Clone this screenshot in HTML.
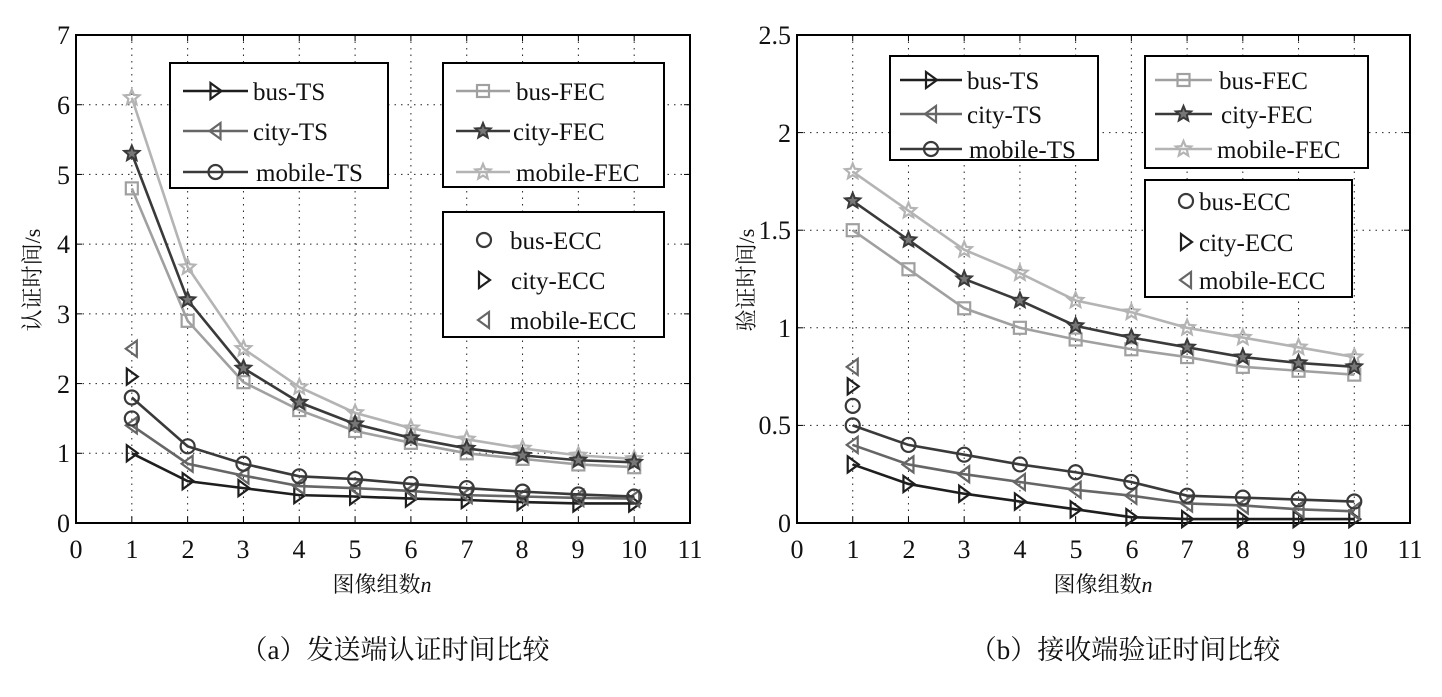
<!DOCTYPE html>
<html><head><meta charset="utf-8"><style>
body{margin:0;background:#fff}
svg text{font-family:"Liberation Serif","Noto Serif CJK SC",serif;fill:#111}
</style></head><body>
<svg id="s" width="1442" height="692" xmlns="http://www.w3.org/2000/svg">
<rect width="1442" height="692" fill="#fff"/>
<g id="g"></g>
<g font-size="26">
<g text-anchor="end">
<text x="70" y="532">0</text><text x="70" y="462">1</text><text x="70" y="393">2</text><text x="70" y="323">3</text><text x="70" y="253">4</text><text x="70" y="184">5</text><text x="70" y="114">6</text><text x="70" y="44">7</text>
<text x="791" y="532">0</text><text x="791" y="434">0.5</text><text x="791" y="337">1</text><text x="791" y="239">1.5</text><text x="791" y="142">2</text><text x="791" y="44">2.5</text>
</g>
<g text-anchor="middle">
<text x="76" y="558">0</text><text x="132" y="558">1</text><text x="188" y="558">2</text><text x="243" y="558">3</text><text x="299" y="558">4</text><text x="355" y="558">5</text><text x="411" y="558">6</text><text x="467" y="558">7</text><text x="522" y="558">8</text><text x="578" y="558">9</text><text x="634" y="558">10</text><text x="690" y="558">11</text>
<text x="797" y="558">0</text><text x="853" y="558">1</text><text x="909" y="558">2</text><text x="964" y="558">3</text><text x="1020" y="558">4</text><text x="1076" y="558">5</text><text x="1132" y="558">6</text><text x="1187" y="558">7</text><text x="1243" y="558">8</text><text x="1299" y="558">9</text><text x="1355" y="558">10</text><text x="1410" y="558">11</text>
</g>
<text x="382" y="592" text-anchor="middle" font-size="22">图像组数<tspan font-style="italic">n</tspan></text>
<text x="1103" y="592" text-anchor="middle" font-size="22">图像组数<tspan font-style="italic">n</tspan></text>
<text transform="translate(40,280) rotate(-90)" text-anchor="middle" font-size="22">认证时间/s</text>
<text transform="translate(754,280) rotate(-90)" text-anchor="middle" font-size="22">验证时间/s</text>
<text x="395" y="659" text-anchor="middle" font-size="27">（a）发送端认证时间比较</text>
<text x="1125" y="659" text-anchor="middle" font-size="27">（b）接收端验证时间比较</text>
</g>
<g font-size="25">
<text x="253" y="100">bus-TS</text><text x="253" y="140">city-TS</text><text x="256" y="181">mobile-TS</text>
<text x="516" y="100">bus-FEC</text><text x="513" y="140">city-FEC</text><text x="516" y="181">mobile-FEC</text>
<text x="510" y="249">bus-ECC</text><text x="511" y="289">city-ECC</text><text x="510" y="329">mobile-ECC</text>
<text x="967" y="89">bus-TS</text><text x="967" y="123">city-TS</text><text x="969" y="158">mobile-TS</text>
<text x="1219" y="89">bus-FEC</text><text x="1221" y="123">city-FEC</text><text x="1217" y="158">mobile-FEC</text>
<text x="1199" y="210">bus-ECC</text><text x="1199" y="251">city-ECC</text><text x="1199" y="289">mobile-ECC</text>
</g>
</svg>
<script>
const g=document.getElementById('g');let h='';
const D='#1e1e1e',M='#666',K='#3a3a3a',L='#a0a0a0',LL='#b4b4b4';
function star(x,y,r){let p=[];for(let i=0;i<10;i++){let a=-Math.PI/2+i*Math.PI/5,rr=i%2?r*0.45:r;p.push((x+rr*Math.cos(a)).toFixed(1)+','+(y+rr*Math.sin(a)).toFixed(1));}return p.join(' ');}
function mk(t,x,y,c){const s=`fill="none" stroke="${c}" stroke-width="2.2"`;
 if(t=='r')return `<polygon points="${x-5},${y-8} ${x+6},${y} ${x-5},${y+8}" ${s}/>`;
 if(t=='l')return `<polygon points="${x+5},${y-8} ${x-6},${y} ${x+5},${y+8}" ${s}/>`;
 if(t=='o')return `<circle cx="${x}" cy="${y}" r="7" ${s}/>`;
 if(t=='q')return `<rect x="${x-6}" y="${y-6}" width="12" height="12" ${s}/>`;
 if(t=='s')return `<polygon points="${star(x,y,8)}" ${s}/>`;
 if(t=='S')return `<polygon points="${star(x,y,8)}" fill="#777" stroke="${c}" stroke-width="2"/>`;}
function axes(x0,x1,y0,y1,ny,ymax,series,ecc){
 const X=v=>x0+(x1-x0)*v/11, Y=v=>y1-(y1-y0)*v/ymax;
 for(let i=1;i<11;i++)h+=`<line x1="${X(i)}" y1="${y0}" x2="${X(i)}" y2="${y1}" stroke="#222" stroke-dasharray="1.5,5"/>`;
 for(let j=1;j<ny;j++){let y=y1-(y1-y0)*j/ny;h+=`<line x1="${x0}" y1="${y}" x2="${x1}" y2="${y}" stroke="#222" stroke-dasharray="1.5,5"/>`;
  h+=`<line x1="${x0}" y1="${y}" x2="${x0+6}" y2="${y}" stroke="#000"/><line x1="${x1-6}" y1="${y}" x2="${x1}" y2="${y}" stroke="#000"/>`;}
 for(let i=1;i<11;i++)h+=`<line x1="${X(i)}" y1="${y1}" x2="${X(i)}" y2="${y1-6}" stroke="#000"/><line x1="${X(i)}" y1="${y0}" x2="${X(i)}" y2="${y0+6}" stroke="#000"/>`;
 h+=`<rect x="${x0}" y="${y0}" width="${x1-x0}" height="${y1-y0}" fill="none" stroke="#000" stroke-width="2"/>`;
 for(const [d,c,m] of series){h+=`<polyline fill="none" stroke="${c}" stroke-width="2.6" points="${d.map((v,i)=>X(i+1)+','+Y(v)).join(' ')}"/>`;
  d.forEach((v,i)=>h+=mk(m,X(i+1),Y(v),c));}
 for(const [v,c,m] of ecc)h+=mk(m,X(1),Y(v),c);}
axes(76,690,35,523,7,7,[
[[1,0.6,0.5,0.4,0.38,0.35,0.33,0.3,0.28,0.28],D,'r'],
[[1.4,0.85,0.68,0.53,0.5,0.46,0.4,0.38,0.36,0.35],M,'l'],
[[1.8,1.1,0.85,0.67,0.63,0.56,0.5,0.45,0.41,0.38],K,'o'],
[[4.8,2.9,2.02,1.62,1.32,1.15,1.0,0.92,0.84,0.8],L,'q'],
[[6.1,3.67,2.5,1.95,1.58,1.36,1.2,1.07,0.97,0.92],LL,'s'],
[[5.3,3.2,2.22,1.73,1.42,1.22,1.07,0.97,0.9,0.87],K,'S']],
[[1.5,K,'o'],[2.1,D,'r'],[2.5,M,'l']]);
axes(797,1410,35,523,5,2.5,[
[[.3,.2,.15,.11,.07,.03,.02,.02,.02,.02],D,'r'],
[[.4,.3,.25,.21,.17,.14,.1,.09,.07,.06],M,'l'],
[[.5,.4,.35,.3,.26,.21,.14,.13,.12,.11],K,'o'],
[[1.5,1.3,1.1,1.0,.94,.89,.85,.8,.78,.76],L,'q'],
[[1.8,1.6,1.4,1.28,1.14,1.08,1.0,.95,.9,.85],LL,'s'],
[[1.65,1.45,1.25,1.14,1.01,.95,.9,.85,.82,.8],K,'S']],
[[.6,K,'o'],[.7,D,'r'],[.8,M,'l']]);
function box(x,y,w,hh){h+=`<rect x="${x}" y="${y}" width="${w}" height="${hh}" fill="#fff" stroke="#000" stroke-width="2"/>`;}
function leg(x1,x2,y,c,m){h+=`<line x1="${x1}" y1="${y}" x2="${x2}" y2="${y}" stroke="${c}" stroke-width="2.6"/>`+mk(m,(x1+x2)/2,y,c);}
box(170,63,218,125);leg(183,248,91,D,'r');leg(183,248,131,M,'l');leg(183,248,172,K,'o');
box(443,63,221,124);leg(456,510,91,L,'q');leg(456,510,131,K,'S');leg(456,510,172,LL,'s');
box(443,212,221,125);h+=mk('o',484,240,K)+mk('r',484,280,D)+mk('l',484,320,M);
box(890,56,208,104);leg(900,962,80,D,'r');leg(900,962,114,M,'l');leg(900,962,149,K,'o');
box(1145,56,223,112);leg(1155,1212,80,L,'q');leg(1155,1212,114,K,'S');leg(1155,1212,149,LL,'s');
box(1145,180,207,117);h+=mk('o',1186,201,K)+mk('r',1186,242,D)+mk('l',1186,280,M);
g.innerHTML=h;
</script>
</body></html>
